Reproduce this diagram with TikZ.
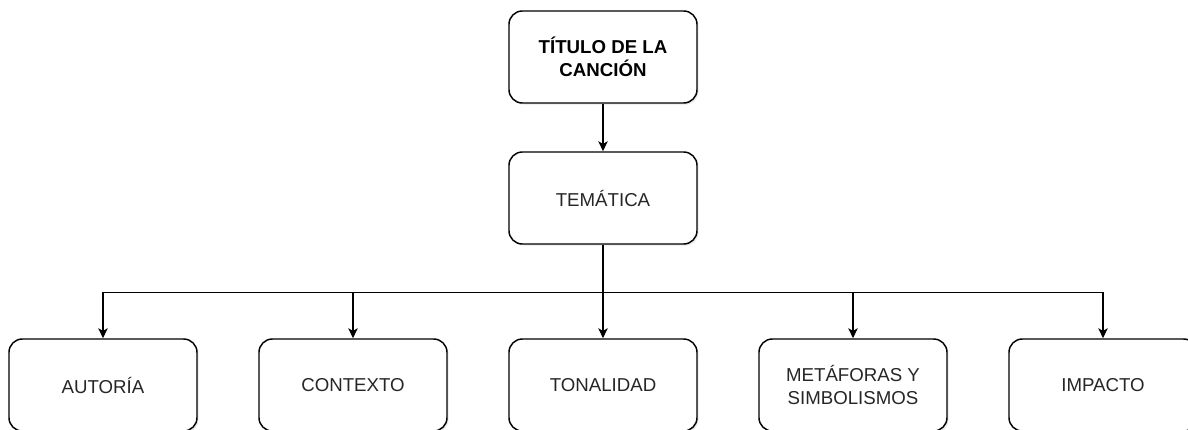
\documentclass[tikz,border=0pt]{standalone}
\usepackage{fontspec}
\setmainfont{Liberation Sans}
\usetikzlibrary{arrows.meta,shadows}

\begin{document}
\begin{tikzpicture}[
	caja/.style={draw, line width=1.1pt, rounded corners=10pt, fill=white,
		minimum width=141pt, minimum height=69pt, align=center,
		font=\fontsize{14}{17.5}\selectfont, text=black!85,
		drop shadow={opacity=0.18, shadow xshift=1.2pt, shadow yshift=-1.2pt}},
	flecha/.style={line width=1.1pt, -{Stealth[length=7.5pt, width=7pt, inset=2pt]}},
	edge from parent/.style={draw, flecha},
	level 1/.style={level distance=105.75pt},
	level 2/.style={level distance=140.25pt, sibling distance=187.5pt,
		edge from parent path={(\tikzparentnode.south) -- ++(0,-36pt) -| (\tikzchildnode.north)}}
]
					\useasboundingbox (-452.25pt,42.75pt) rectangle (438.75pt,-279pt);
					\node[caja, text=black, font=\fontsize{14}{17.5}\selectfont\bfseries](titulo){TÍTULO DE LA\\CANCIÓN}
					child{
						node[caja](tematica){TEMÁTICA}
						child{
							node[caja](autoria){AUTORÍA}
						}
						child{
							node[caja](contexto){CONTEXTO}
						}
						child{
							node[caja](tonalidad){TONALIDAD}
						}
						child{
							node[caja](metaforas){METÁFORAS Y\\SIMBOLISMOS}
						}
						child{
							node[caja](impacto){IMPACTO}
						}
					};
					\end{tikzpicture}
\end{document}
